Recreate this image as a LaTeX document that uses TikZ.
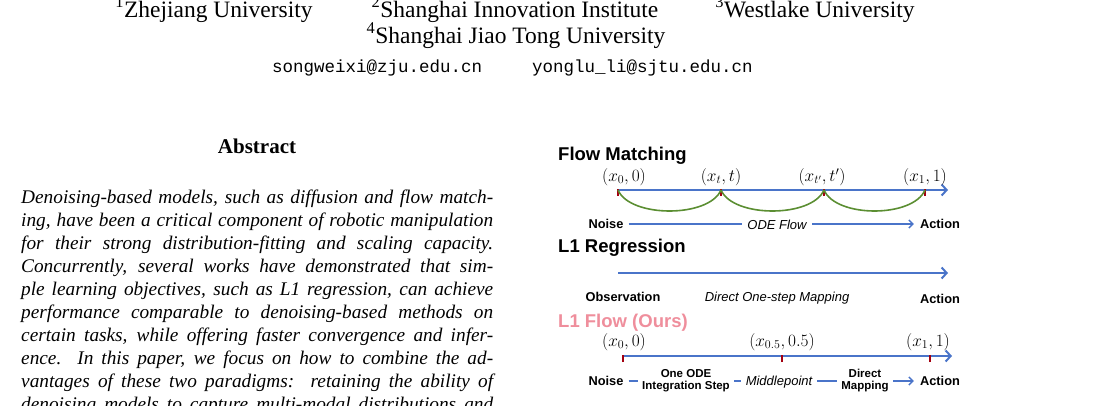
\documentclass[tikz,border=0pt]{standalone}
\usepackage{fontspec}
\setmainfont{Liberation Serif}
\setsansfont{Liberation Sans}
\setmonofont{Liberation Mono}
\usetikzlibrary{arrows.meta}
\definecolor{fblue}{HTML}{4A74C9}
\definecolor{fgreen}{HTML}{5B8E32}
\definecolor{fred}{HTML}{A30010}
\definecolor{fpink}{HTML}{EF8E9C}
\begin{document}
\begin{tikzpicture}[x=1pt,y=-1pt,
  aff/.style={font=\fontsize{23.5}{25}\selectfont, inner sep=0, anchor=base},
  mail/.style={font=\ttfamily\fontsize{17.5}{19}\selectfont, inner sep=0, anchor=base west},
  body/.style={font=\itshape\fontsize{19.3}{20}\selectfont, inner sep=0, anchor=base west},
  ttl/.style={font=\sffamily\bfseries\fontsize{18.5}{20}\selectfont, inner sep=0, anchor=base west},
  lab/.style={font=\sffamily\bfseries\fontsize{12.8}{14}\selectfont, inner sep=0},
  ital/.style={font=\sffamily\itshape\fontsize{13}{14}\selectfont, inner xsep=5pt, inner ysep=1pt, fill=white},
  small/.style={font=\sffamily\bfseries\fontsize{11.5}{12}\selectfont, inner xsep=4pt, inner ysep=0pt, align=center, fill=white},
  mth/.style={font=\fontsize{16.5}{17}\selectfont, inner sep=0},
  axis/.style={fblue, line width=2.2pt, -{Straight Barb[length=5pt,width=11pt,line width=2pt]}},
  thin/.style={fblue, line width=1.5pt, -{Straight Barb[length=4pt,width=8pt,line width=1.5pt]}},
  tick/.style={fred, line width=2pt},
  arc/.style={fgreen, line width=1.6pt}]
\useasboundingbox (0,0) rectangle (1104,405);
\clip (0,0) rectangle (1104,405);
% header
\node[aff] (a1) at (214,17) {\textsuperscript{1}Zhejiang University};
\node[aff] (a2) at (515,17) {\textsuperscript{2}Shanghai Innovation Institute};
\node[aff] (a3) at (815,17) {\textsuperscript{3}Westlake University};
\node[aff] (a4) at (516,43) {\textsuperscript{4}Shanghai Jiao Tong University};
\node[mail] (m1) at (272,72) {songweixi@zju.edu.cn};
\node[mail] (m2) at (532,72) {yonglu\_li@sjtu.edu.cn};
% abstract
\node[font=\bfseries\fontsize{21}{23}\selectfont, inner sep=0, anchor=base] (abs) at (257,153) {Abstract};
\foreach \i/\t in {0/{Denoising-based models, such as diffusion and flow match-},
 1/{ing, have been a critical component of robotic manipulation},
 2/{for their strong distribution-fitting and scaling capacity.},
 3/{Concurrently, several works have demonstrated that sim-},
 4/{ple learning objectives, such as L1 regression, can achieve},
 5/{performance comparable to denoising-based methods on},
 6/{certain tasks, while offering faster convergence and infer-},
 7/{ence.\ \ In this paper, we focus on how to combine the ad-},
 8/{vantages of these two paradigms:\ \ retaining the ability of},
 9/{denoising models to capture multi-modal distributions and}}
 \node[body] (l\i) at (21,{203+23*\i}) {\makebox[472pt][s]{\t}};
% Flow matching
\node[ttl] (t1) at (558,160) {Flow Matching};
\coordinate (f0) at (618,190); \coordinate (f1) at (721,190);
\coordinate (f2) at (824,190); \coordinate (f3) at (925,190);
\coordinate (fe) at (948,190);
\draw[axis] (f0) -- (fe);
\foreach \p in {f0,f1,f2,f3} \draw[tick] ([yshift=-6pt]\p) -- ([yshift=1pt]\p);
\draw[arc] (f0) .. controls (630,218) and (709,218) .. (f1);
\draw[arc] (f1) .. controls (733,218) and (812,218) .. (f2);
\draw[arc] (f2) .. controls (836,218) and (913,218) .. (f3);
\node[mth] (p0) at (624,177) {$(x_0,0)$};
\node[mth] (p1) at (721,177) {$(x_t,t)$};
\node[mth] (p2) at (822,177) {$(x_{t'},t')$};
\node[mth] (p3) at (925,177) {$(x_1,1)$};
\node[lab] (n1) at (606,224) {Noise};
\node[lab] (ac1) at (940,224) {Action};
\draw[thin] ([xshift=5pt]n1.east) -- ([xshift=-6pt]ac1.west);
\node[ital] (ode) at (777,225) {ODE Flow};
% L1 regression
\node[ttl] (t2) at (558,252) {L1 Regression};
\coordinate (r0) at (618,273); \coordinate (re) at (948,273);
\draw[axis] (r0) -- (re);
\node[lab] (obs) at (623,297) {Observation};
\node[ital] (dir) at (777,298) {Direct One-step Mapping};
\node[lab] (ac2) at (940,299) {Action};
% L1 flow
\node[ttl, text=fpink] (t3) at (558,327) {L1 Flow (Ours)};
\coordinate (g0) at (623,356); \coordinate (g1) at (782,356);
\coordinate (g2) at (930,356); \coordinate (ge) at (952,356);
\draw[axis] (g0) -- (ge);
\foreach \p in {g0,g1,g2} \draw[tick] ([yshift=-6pt]\p) -- ([yshift=1pt]\p);
\node[mth] (q0) at (624,342) {$(x_0,0)$};
\node[mth] (q1) at (782,342) {$(x_{0.5},0.5)$};
\node[mth] (q2) at (928,342) {$(x_1,1)$};
\node[lab] (n3) at (606,381) {Noise};
\node[lab] (ac3) at (940,381) {Action};
\draw[thin] ([xshift=5pt]n3.east) -- ([xshift=-6pt]ac3.west);
\node[small] (st) at (686,381) {One ODE\\Integration Step};
\node[ital] (mid) at (779,382) {Middlepoint};
\node[small] (dm) at (865,381) {Direct\\Mapping};
\end{tikzpicture}
\end{document}
